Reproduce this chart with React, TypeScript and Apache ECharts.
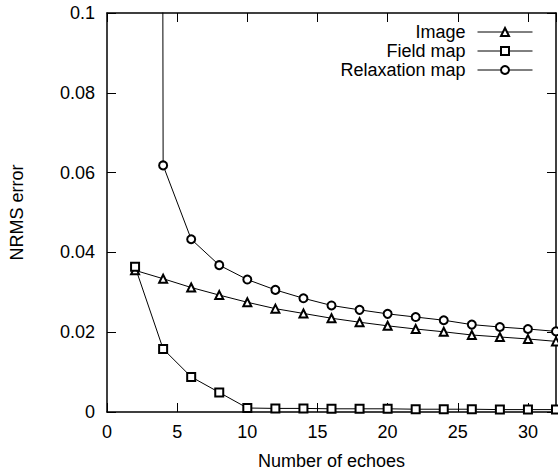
import React, { useEffect, useRef } from "react";
import * as echarts from "echarts";

const echoes = [2, 4, 6, 8, 10, 12, 14, 16, 18, 20, 22, 24, 26, 28, 30, 32];
const imageErr = [0.0355, 0.0334, 0.0312, 0.0293, 0.0275, 0.0259, 0.0247, 0.0235, 0.0225, 0.0216, 0.0208, 0.0201, 0.0193, 0.0188, 0.0183, 0.0177];
const fieldErr = [0.0364, 0.0158, 0.0088, 0.0049, 0.0010, 0.0009, 0.0009, 0.0008, 0.0008, 0.0008, 0.0007, 0.0007, 0.0007, 0.0006, 0.0006, 0.0006];
const relaxErr = [4.0, 0.0618, 0.0433, 0.0368, 0.0332, 0.0306, 0.0285, 0.0267, 0.0256, 0.0246, 0.0238, 0.0230, 0.0219, 0.0213, 0.0208, 0.0202];
const seriesNames = ["Image", "Field map", "Relaxation map"];
const seriesSymbols = ["emptyTriangle", "emptyRect", "emptyCircle"];
const xTicks = { min: 0, max: 32, interval: 5 };
const yTicks = { min: 0, max: 0.1, interval: 0.02 };

const FONT = "'Liberation Sans', Arial, sans-serif";

export default function App() {
  const ref = useRef<HTMLDivElement>(null);
  useEffect(() => {
    if (!ref.current) return;
    const chart = echarts.init(ref.current, undefined, { renderer: "svg" });
    const values = [imageErr, fieldErr, relaxErr];
    const mkLine = () => ({ show: true, onZero: false, lineStyle: { color: "#000", width: 1.5 } });
    const mkTick = () => ({ show: true, inside: true, length: 9, lineStyle: { color: "#000", width: 1 } });
    const legendTops = [23, 42, 61];
    chart.setOption({
      animation: false,
      backgroundColor: "#fff",
      textStyle: { fontFamily: FONT },
      grid: { left: 107, right: 2, top: 13, bottom: 62, containLabel: false },
      legend: seriesNames.map((n, i) => ({
        data: [n],
        orient: "vertical",
        right: 25,
        top: legendTops[i],
        align: "right",
        padding: 0,
        itemWidth: 55,
        itemHeight: 10,
        itemStyle: { borderWidth: 0.8 },
        lineStyle: { width: 1 },
        textStyle: { fontFamily: FONT, fontSize: 18, color: "#000", lineHeight: 18, padding: [0, 7, 0, 0] },
      })),
      xAxis: [
        {
          type: "value",
          min: xTicks.min,
          max: xTicks.max,
          interval: xTicks.interval,
          position: "bottom",
          name: "Number of echoes",
          nameLocation: "middle",
          nameGap: 40,
          nameTextStyle: { fontFamily: FONT, fontSize: 18, color: "#000" },
          axisLine: mkLine(),
          axisTick: mkTick(),
          splitLine: { show: false },
          axisLabel: { fontFamily: FONT, fontSize: 18, color: "#000", margin: 11, showMaxLabel: false },
        },
        {
          type: "value",
          min: xTicks.min,
          max: xTicks.max,
          interval: xTicks.interval,
          position: "top",
          axisLine: mkLine(),
          axisTick: mkTick(),
          splitLine: { show: false },
          axisLabel: { show: false },
        },
      ],
      yAxis: [
        {
          type: "value",
          min: yTicks.min,
          max: yTicks.max,
          interval: yTicks.interval,
          position: "left",
          name: "NRMS error",
          nameLocation: "middle",
          nameGap: 81,
          nameTextStyle: { fontFamily: FONT, fontSize: 18, color: "#000" },
          axisLine: mkLine(),
          axisTick: mkTick(),
          splitLine: { show: false },
          axisLabel: { fontFamily: FONT, fontSize: 18, color: "#000", margin: 12 },
        },
        {
          type: "value",
          min: yTicks.min,
          max: yTicks.max,
          interval: yTicks.interval,
          position: "right",
          axisLine: mkLine(),
          axisTick: mkTick(),
          splitLine: { show: false },
          axisLabel: { show: false },
        },
      ],
      series: seriesNames.map((n, i) => ({
        name: n,
        type: "line",
        xAxisIndex: 0,
        yAxisIndex: 0,
        data: echoes.map((x, j) => [x, values[i][j]]),
        symbol: seriesSymbols[i],
        symbolSize: 8,
        showAllSymbol: true,
        clip: true,
        lineStyle: { color: "#000", width: 1 },
        itemStyle: { color: "#000", borderWidth: 1 },
      })),
    });
    return () => chart.dispose();
  }, []);
  return <div ref={ref} style={{ width: 558, height: 475, position: "absolute", left: 0, top: 0 }} />;
}
